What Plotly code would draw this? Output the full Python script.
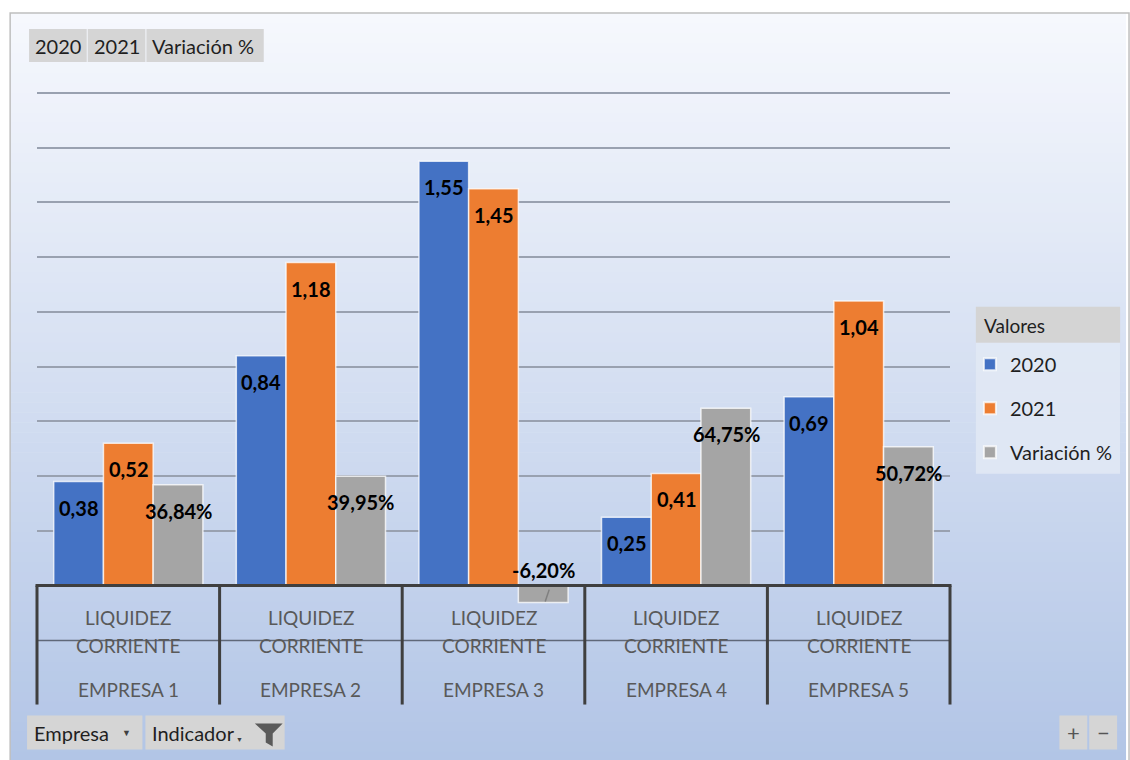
import plotly.graph_objects as go

# ---------------- data ----------------
empresas = ["EMPRESA 1", "EMPRESA 2", "EMPRESA 3", "EMPRESA 4", "EMPRESA 5"]
indicador = "LIQUIDEZ CORRIENTE"
series_names = ["2020", "2021", "Variación %"]
v2020 = [0.38, 0.84, 1.55, 0.25, 0.69]
v2021 = [0.52, 1.18, 1.45, 0.41, 1.04]
variacion_pct = [36.84, 39.95, -6.20, 64.75, 50.72]
colors = ["#4472C4", "#ED7D31", "#A5A5A5"]

variacion = [v / 100 for v in variacion_pct]

FONT = "Lato, 'Open Sans', sans-serif"
W, H = 1130, 760
PL, PR, PT, PB = 37, 955, 80, 613.4
Y0, Y1 = -0.1, 1.847


def px(x):
    return (x - PL) / (PR - PL)


def py(y):
    return (PB - y) / (PB - PT)


def fmt_num(v):
    return f"{v:.2f}".replace(".", ",")


def fmt_pct(v):
    return f"{v:.2f}".replace(".", ",") + "%"


fig = go.Figure()
for name, vals, col in zip(series_names, [v2020, v2021, variacion], colors):
    fig.add_trace(go.Bar(
        x=empresas, y=vals, name=name,
        marker=dict(color=col, line=dict(color="rgba(255,255,255,0.75)", width=1.5)),
        legendgroup=name, hoverinfo="skip",
    ))

shapes = []
# gradient background
n = 75
top_c = (246, 248, 253)
bot_c = (178, 197, 230)
y_start, y_end = 13, 762
for i in range(n):
    t = i / (n - 1)
    c = tuple(int(round(top_c[k] + (bot_c[k] - top_c[k]) * t)) for k in range(3))
    ya = y_start + (y_end - y_start) * i / n
    yb = y_start + (y_end - y_start) * (i + 1) / n + 0.6
    shapes.append(dict(type="rect", xref="paper", yref="paper", x0=px(10), x1=px(1132),
                       y0=py(ya), y1=py(yb), fillcolor=f"rgb{c}", line=dict(width=0),
                       layer="below"))
# outer border
shapes.append(dict(type="rect", xref="paper", yref="paper", x0=px(10), x1=px(1135),
                   y0=py(13), y1=py(770), line=dict(color="#bfbfbf", width=1.5),
                   fillcolor="rgba(0,0,0,0)", layer="below"))

# legend box + header
shapes.append(dict(type="rect", xref="paper", yref="paper", x0=px(981), x1=px(1126),
                   y0=py(307), y1=py(474), fillcolor="rgba(226,233,245,0.85)",
                   line=dict(width=0), layer="below"))
shapes.append(dict(type="rect", xref="paper", yref="paper", x0=px(981), x1=px(1126),
                   y0=py(307), y1=py(343), fillcolor="#d4d4d4",
                   line=dict(width=0), layer="below"))

# axis "table"
DARK = "#3f3f3f"
shapes.append(dict(type="line", xref="paper", yref="paper", x0=px(PL - 1.5), x1=px(PR + 1.5),
                   y0=py(586), y1=py(586), line=dict(color=DARK, width=3), layer="above"))
shapes.append(dict(type="line", xref="paper", yref="paper", x0=px(PL), x1=px(PR),
                   y0=py(641), y1=py(641), line=dict(color="#5f6878", width=1.5), layer="above"))
for k in range(6):
    xv = k / 5
    shapes.append(dict(type="line", xref="paper", yref="paper", x0=xv, x1=xv,
                       y0=py(586), y1=py(705), line=dict(color=DARK, width=3), layer="above"))

annotations = []


def label(xp, yp, text, size, color="#1f1f1f", xanchor="center"):
    annotations.append(dict(xref="paper", yref="paper", x=px(xp), y=py(yp), text=text,
                            xanchor=xanchor, yanchor="middle", showarrow=False,
                            font=dict(family=FONT, size=size, color=color)))


# top field buttons
top_buttons = [("2020", 29, 87), ("2021", 88, 146), ("Variación %", 147, 265)]
bottom_buttons = [("Empresa", 27, 143), ("Indicador", 146, 286)]
for text, xa, xb in top_buttons:
    shapes.append(dict(type="rect", xref="paper", yref="paper", x0=px(xa), x1=px(xb),
                       y0=py(29), y1=py(62), fillcolor="#d5d5d5", line=dict(width=0),
                       layer="above"))
    label(xa + 4, 46, text, 20, xanchor="left")
for text, xa, xb in bottom_buttons:
    shapes.append(dict(type="rect", xref="paper", yref="paper", x0=px(xa), x1=px(xb),
                       y0=py(716), y1=py(750), fillcolor="#d5d5d5", line=dict(width=0),
                       layer="above"))
    label(xa + 5, 733, text, 20, xanchor="left")
label(127, 733, "▼", 9, "#404040")
label(241, 739, "▼", 7, "#404040")
# funnel icon
fx = [256, 284, 274, 274, 267, 267]
fy = [724, 724, 734, 747, 743, 734]
path = "M " + " L ".join(f"{px(a):.5f},{py(b):.5f}" for a, b in zip(fx, fy)) + " Z"
shapes.append(dict(type="path", xref="paper", yref="paper", path=path,
                   fillcolor="#5a5a5a", line=dict(width=0), layer="above"))

# +/- buttons
for text, xa, xb in [("+", 1065, 1093), ("−", 1095, 1123)]:
    shapes.append(dict(type="rect", xref="paper", yref="paper", x0=px(xa), x1=px(xb),
                       y0=py(716), y1=py(750), fillcolor="#d5d5d5", line=dict(width=0),
                       layer="above"))
    label((xa + xb) / 2, 733, text, 22, "#555555")

# legend header text
label(987, 326, "Valores", 19, xanchor="left")

# leader line for the small negative label
shapes.append(dict(type="line", xref="paper", yref="paper", x0=px(552), x1=px(548),
                   y0=py(590), y1=py(602), line=dict(color="#7f7f7f", width=1.5),
                   layer="above"))

# category labels (two-level axis: indicador over empresa)
ind_words = indicador.split(" ")
for e in empresas:
    for word, yline in zip(ind_words, [618, 646]):
        annotations.append(dict(xref="x", yref="paper", x=e, y=py(yline), text=word,
                                xanchor="center", yanchor="middle", showarrow=False,
                                font=dict(family=FONT, size=19, color="#595959")))
    annotations.append(dict(xref="x", yref="paper", x=e, y=py(690), text=e,
                            xanchor="center", yanchor="middle", showarrow=False,
                            font=dict(family=FONT, size=19, color="#595959")))

# data labels
offsets = [-50, 0, 50]
for si, vals in enumerate([v2020, v2021, variacion]):
    for e, v, vp in zip(empresas, vals, variacion_pct):
        txt = fmt_num(v) if si < 2 else fmt_pct(vp)
        if v >= 0:
            yy, ys = v, -26
        else:
            yy, ys = 0, 16
        annotations.append(dict(xref="x", yref="y", x=e, y=yy, xshift=offsets[si], yshift=ys,
                                text=f"<b>{txt}</b>", showarrow=False,
                                xanchor="center", yanchor="middle",
                                font=dict(family=FONT, size=20, color="#000000")))

fig.update_layout(
    width=W, height=H,
    margin=dict(l=PL, r=W - PR, t=PT, b=H - PB, pad=0),
    paper_bgcolor="white", plot_bgcolor="rgba(0,0,0,0)",
    barmode="group", bargap=0.183, bargroupgap=0,
    font=dict(family=FONT, size=17, color="#1f1f1f"),
    xaxis=dict(showticklabels=False, showgrid=False, zeroline=False, showline=False,
               ticks="", range=[-0.5, 4.5]),
    yaxis=dict(range=[Y0, Y1], showticklabels=False, ticks="", dtick=0.2, tick0=0,
               showgrid=True, gridcolor="#99a1b0", gridwidth=1.5, zeroline=False,
               showline=False),
    showlegend=True,
    legend=dict(x=px(975), y=py(345), xanchor="left", yanchor="top",
                bgcolor="rgba(0,0,0,0)", borderwidth=0,
                font=dict(family=FONT, size=20, color="#1f1f1f"),
                tracegroupgap=15, traceorder="grouped", itemsizing="constant"),
    shapes=shapes, annotations=annotations,
)

fig.write_html("out.html")
